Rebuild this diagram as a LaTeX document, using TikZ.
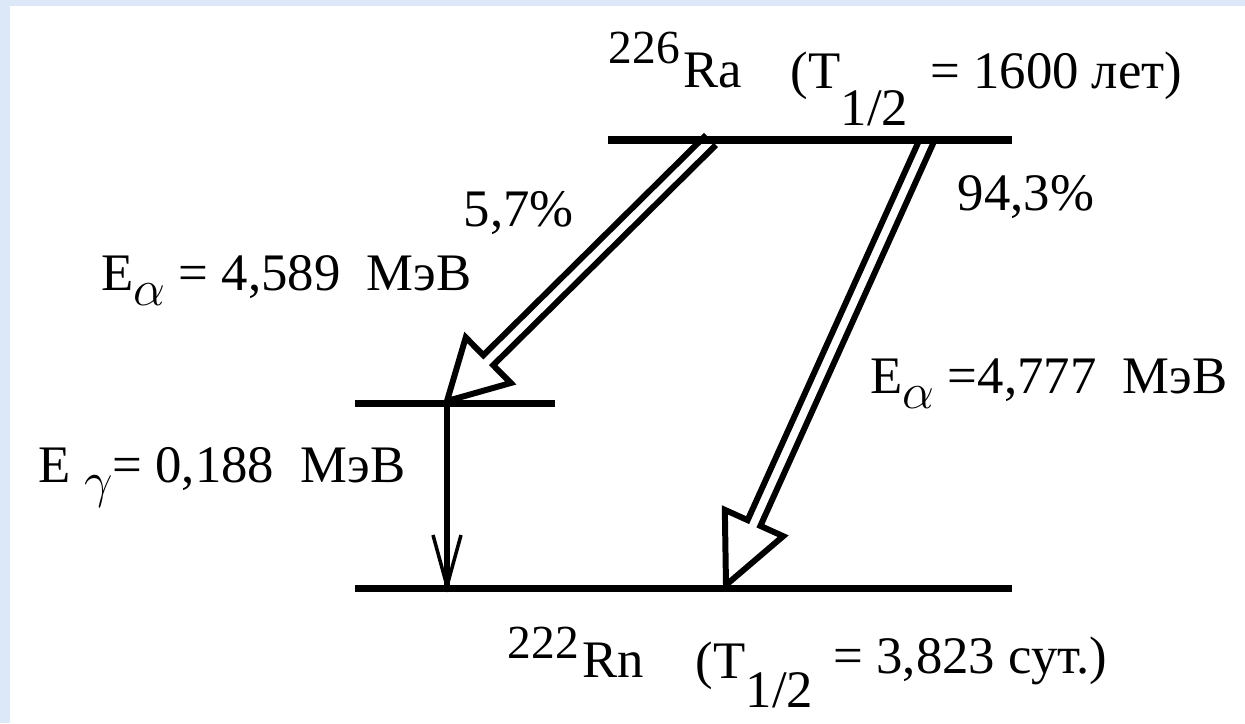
\documentclass[tikz,border=0pt]{standalone}
\usepackage{fontspec}
\setmainfont{Liberation Serif}
\usetikzlibrary{calc}
\definecolor{slideblue}{RGB}{220,232,248}
\newcommand{\mainsz}{\fontsize{15}{16}\selectfont}
\newcommand{\supsz}{\fontsize{13.5}{14}\selectfont}
\newcommand{\greeksub}[1]{\raisebox{-0.3em}{$#1$}}
\begin{document}
\begin{tikzpicture}[x=0.01cm,y=-0.01cm,
  lbl/.style={anchor=base west,inner sep=0pt,font=\mainsz},
  suptxt/.style={anchor=base west,inner sep=0pt,font=\supsz},
  lvl/.style={line width=2pt},
  hollow/.style={line width=1.7pt,line join=miter},
  gam/.style={line width=1.8pt}]
\useasboundingbox (0,0) rectangle (1245,723);
\fill[white] (0,0) rectangle (1245,723);
\fill[slideblue] (0,0) rectangle (1245,6);
\fill[slideblue] (0,0) rectangle (10,723);

% levels
\coordinate (t1) at (608,140); \coordinate (t2) at (1012,140);
\coordinate (m1) at (355,403); \coordinate (m2) at (555,403);
\coordinate (b1) at (355,588); \coordinate (b2) at (1012,588);

% hollow arrow 1 (5,7%)
\coordinate (a1s) at (711,140); \coordinate (a1t) at (447,401);
\coordinate (a1m) at ($(a1t)!0.58cm!(a1s)$);
\draw[hollow] ($(a1s)!0.07cm!90:(a1t)$) -- ($(a1m)!0.07cm!90:(a1t)$)
  -- ($(a1m)!0.32cm!90:(a1t)$) -- (a1t) -- ($(a1m)!0.32cm!-90:(a1t)$)
  -- ($(a1m)!0.07cm!-90:(a1t)$) -- ($(a1s)!0.07cm!-90:(a1t)$);

% hollow arrow 2 (94,3%)
\coordinate (a2s) at (927,140); \coordinate (a2t) at (726,585);
\coordinate (a2m) at ($(a2t)!0.68cm!(a2s)$);
\draw[hollow] ($(a2s)!0.07cm!90:(a2t)$) -- ($(a2m)!0.07cm!90:(a2t)$)
  -- ($(a2m)!0.32cm!90:(a2t)$) -- (a2t) -- ($(a2m)!0.32cm!-90:(a2t)$)
  -- ($(a2m)!0.07cm!-90:(a2t)$) -- ($(a2s)!0.07cm!-90:(a2t)$);

% gamma transition
\coordinate (gs) at (447,403); \coordinate (gt) at (447,586);
\draw[gam] (gs) -- (gt);
\draw[line width=1pt] (433,535) -- (gt) -- (461,535);

\draw[lvl] (t1) -- (t2);
\draw[lvl] (m1) -- (m2);
\draw[lvl] (b1) -- (b2);

% labels
\node[suptxt] (rasup) at (608,63) {226};
\node[lbl] (ra) at (683,87) {Ra};
\node[lbl] (rat) at (790,88) {(T};
\node[lbl] (rahalf) at (840,125) {1/2};
\node[lbl,anchor=base east] (raeq) at (1183,88) {= 1600 лет)};

\node[lbl] (p57) at (463,226) {5,7\%};
\node[lbl] (p943) at (957,210) {94,3\%};
\node[lbl] (ea1) at (101,290) {E\greeksub{\alpha} = 4,589\ \ МэВ};
\node[lbl] (ea2) at (870,393) {E\greeksub{\alpha} =4,777\ \ МэВ};
\node[lbl] (eg) at (38,482) {E \greeksub{\gamma}= 0,188\ \ МэВ};

\node[suptxt] (rnsup) at (507,658) {222};
\node[lbl] (rn) at (582,677) {Rn};
\node[lbl] (rnt) at (695,678) {(T};
\node[lbl] (rnhalf) at (745,707) {1/2};
\node[lbl,anchor=base east] (rneq) at (1108,673) {= 3,823 сут.)};
\end{tikzpicture}
\end{document}
